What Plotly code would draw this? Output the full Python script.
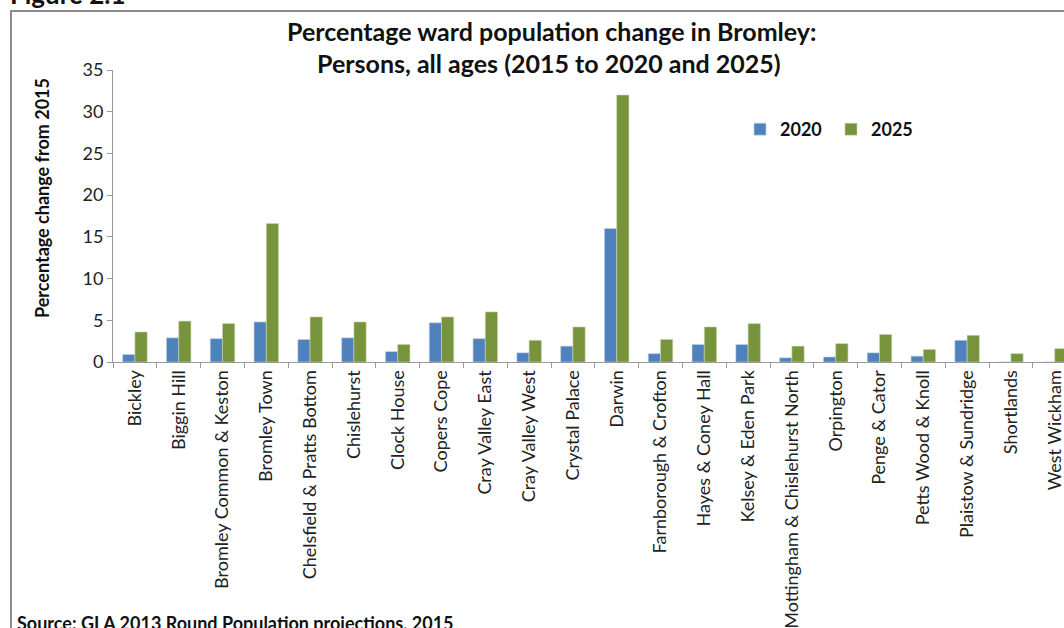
import plotly.graph_objects as go

wards = [
    "Bickley", "Biggin Hill", "Bromley Common & Keston", "Bromley Town",
    "Chelsfield & Pratts Bottom", "Chislehurst", "Clock House", "Copers Cope",
    "Cray Valley East", "Cray Valley West", "Crystal Palace", "Darwin",
    "Farnborough & Crofton", "Hayes & Coney Hall", "Kelsey & Eden Park",
    "Mottingham & Chislehurst North", "Orpington", "Penge & Cator",
    "Petts Wood & Knoll", "Plaistow & Sundridge", "Shortlands", "West Wickham",
]
change_2020 = [0.9, 2.9, 2.8, 4.8, 2.7, 2.9, 1.25, 4.7, 2.8, 1.1, 1.9, 16.0,
               1.0, 2.1, 2.1, 0.5, 0.6, 1.1, 0.7, 2.6, 0.0, 0.0]
change_2025 = [3.6, 4.9, 4.6, 16.6, 5.4, 4.8, 2.1, 5.4, 6.0, 2.6, 4.2, 32.0,
               2.7, 4.2, 4.6, 1.9, 2.2, 3.3, 1.5, 3.2, 1.0, 1.6]
y_ticks = [0, 5, 10, 15, 20, 25, 30, 35]

FONT = "Lato"
BLUE = "#4F81BD"
GREEN = "#77933C"

W, H = 1064, 628
L, R, T, B = 113, 0, 70, 266
plot_w = W - L - R
plot_h = H - T - B
cat_w = 43.8


def px_x(p):
    return (p - L) / plot_w


def px_y(p):
    return (H - B - p) / plot_h


fig = go.Figure()
fig.add_bar(x=wards, y=change_2020, name="2020", marker=dict(color=BLUE, line=dict(color="#C6D4E8", width=0.6)))
fig.add_bar(x=wards, y=change_2025, name="2025", marker=dict(color=GREEN, line=dict(color="#C9D6AE", width=0.6)))

x_max = plot_w / cat_w - 0.5

fig.update_layout(
    width=W, height=H,
    margin=dict(l=L, r=R, t=T, b=B, autoexpand=False),
    paper_bgcolor="white", plot_bgcolor="white",
    barmode="group", bargap=0.44, bargroupgap=0,
    font=dict(family=FONT, color="#222222", size=18),
    showlegend=True,
    legend=dict(orientation="h", x=px_x(740), y=px_y(111), xanchor="left", yanchor="top",
                font=dict(family=FONT, size=18, color="#111111", weight="bold"),
                itemwidth=30, entrywidth=46, bgcolor="rgba(0,0,0,0)"),
    xaxis=dict(
        type="category", range=[-0.5, x_max],
        showline=True, linecolor="#999999", linewidth=1,
        ticks="outside", ticklen=5, tickcolor="#999999", tickson="boundaries",
        tickangle=-90, tickfont=dict(family=FONT, size=18, color="#222222"),
        showgrid=False, zeroline=False,
    ),
    yaxis=dict(
        range=[0, 35], tickvals=y_ticks,
        showline=True, linecolor="#999999", linewidth=1,
        ticks="outside", ticklen=5, tickcolor="#999999",
        tickfont=dict(family=FONT, size=18, color="#222222"),
        showgrid=False, zeroline=False,
    ),
)

# outer chart frame
fig.add_shape(type="rect", xref="paper", yref="paper",
              x0=px_x(11), x1=px_x(1100), y0=px_y(700), y1=px_y(11),
              line=dict(color="#8C8C8C", width=2), layer="below")

title_font = dict(family=FONT, size=25, color="#111111", weight="bold")
fig.add_annotation(text="Percentage ward population change in Bromley:", xref="paper", yref="paper",
                   x=px_x(551), y=px_y(31), showarrow=False, font=title_font, xanchor="center", yanchor="middle")
fig.add_annotation(text="Persons, all ages (2015 to 2020 and 2025)", xref="paper", yref="paper",
                   x=px_x(549), y=px_y(63), showarrow=False, font=title_font, xanchor="center", yanchor="middle")

fig.add_annotation(text="Percentage change from 2015", xref="paper", yref="paper",
                   x=px_x(42), y=px_y(198), showarrow=False, textangle=-90,
                   font=dict(family=FONT, size=18, color="#111111", weight="bold"),
                   xanchor="center", yanchor="middle")

fig.add_annotation(text="Figure 2.1", xref="paper", yref="paper",
                   x=px_x(8), y=px_y(12), showarrow=False,
                   font=dict(family=FONT, size=26, color="#111111", weight="bold"),
                   xanchor="left", yanchor="bottom")

fig.add_annotation(text="Source: GLA 2013 Round Population projections, 2015", xref="paper", yref="paper",
                   x=px_x(15), y=px_y(623), showarrow=False,
                   font=dict(family=FONT, size=18, color="#111111", weight="bold"),
                   xanchor="left", yanchor="middle")

fig.write_html("out.html")
